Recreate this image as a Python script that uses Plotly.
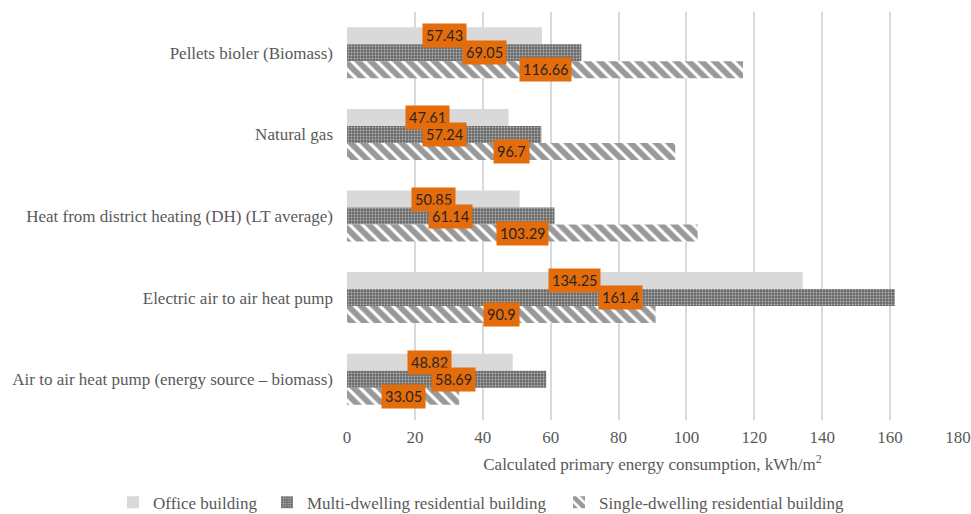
import plotly.graph_objects as go

categories = [
    "Pellets bioler (Biomass)",
    "Natural gas",
    "Heat from district heating (DH) (LT average)",
    "Electric air to air heat pump",
    "Air to air heat pump (energy source \u2013 biomass)",
]
office = [57.43, 47.61, 50.85, 134.25, 48.82]
multi = [69.05, 57.24, 61.14, 161.4, 58.69]
single = [116.66, 96.7, 103.29, 90.9, 33.05]
series_names = ["Office building", "Multi-dwelling residential building", "Single-dwelling residential building"]
x_ticks = [0, 20, 40, 60, 80, 100, 120, 140, 160, 180]

ORANGE = "#E46C0A"
TXT = "#595959"
SERIF = "Liberation Serif, Times New Roman, serif"
FS = 17

fig = go.Figure()
fig.add_trace(go.Bar(
    y=categories, x=office, orientation="h", name=series_names[0], legend="legend",
    marker=dict(color="#D9D9D9", line=dict(width=0)),
))
fig.add_trace(go.Bar(
    y=categories, x=multi, orientation="h", name=series_names[1], legend="legend2",
    marker=dict(color="#7F7F7F", line=dict(width=0),
                pattern=dict(shape=".", fgcolor="#FFFFFF", bgcolor="#6A6A6A",
                             size=3, solidity=0.3, fillmode="overlay")),
))
fig.add_trace(go.Bar(
    y=categories, x=single, orientation="h", name=series_names[2], legend="legend3",
    marker=dict(color="#FFFFFF", line=dict(width=0),
                pattern=dict(shape="\\", fgcolor="#333333", bgcolor="#FFFFFF",
                             size=9, solidity=0.65, fillmode="overlay")),
))

# data labels (centered on bars, some manually nudged like the original)
label_nudge = {(1, 0): 6.0, (1, 4): 2.0}
bar_px = 17
for si, vals in enumerate([office, multi, single]):
    for ci, v in enumerate(vals):
        fig.add_annotation(
            x=v / 2 + label_nudge.get((si, ci), 0.0), y=categories[ci],
            xref="x", yref="y", text=f"{v:g}", showarrow=False,
            yshift=(1 - si) * bar_px,
            font=dict(family="Lato, Carlito, sans-serif", size=14.5, color="#262626"),
            bgcolor=ORANGE, borderpad=3,
        )

leg_common = dict(orientation="h", xref="container", yref="container",
                  xanchor="left", y=0.022, yanchor="middle",
                  font=dict(family=SERIF, size=FS, color=TXT),
                  itemwidth=30, bgcolor="rgba(0,0,0,0)")

fig.update_layout(
    width=971, height=514,
    margin=dict(l=347, r=13, t=12, b=94, autoexpand=False),
    paper_bgcolor="white", plot_bgcolor="white",
    barmode="group", bargap=0.375, bargroupgap=0,
    showlegend=True,
    legend=dict(x=113 / 971, **leg_common),
    legend2=dict(x=267 / 971, **leg_common),
    legend3=dict(x=559 / 971, **leg_common),
    font=dict(family=SERIF, size=FS, color=TXT),
)
fig.update_xaxes(
    range=[0, 180], tickvals=x_ticks, showgrid=True, gridcolor="#D9D9D9", gridwidth=1.5,
    zeroline=False, showline=False, ticks="", ticklabelstandoff=5, automargin=False,
    tickfont=dict(family=SERIF, size=FS, color=TXT),
    title=dict(text="Calculated primary energy consumption, kWh/m<sup>2</sup>",
               font=dict(family=SERIF, size=FS, color=TXT), standoff=12),
)
fig.update_yaxes(
    autorange="reversed", showgrid=False, showline=False, ticks="", automargin=False,
    ticklabelstandoff=13, tickfont=dict(family=SERIF, size=FS, color=TXT),
)

fig.write_html("out.html", config={"displayModeBar": False},
               post_script="document.body.style.margin='0';")
